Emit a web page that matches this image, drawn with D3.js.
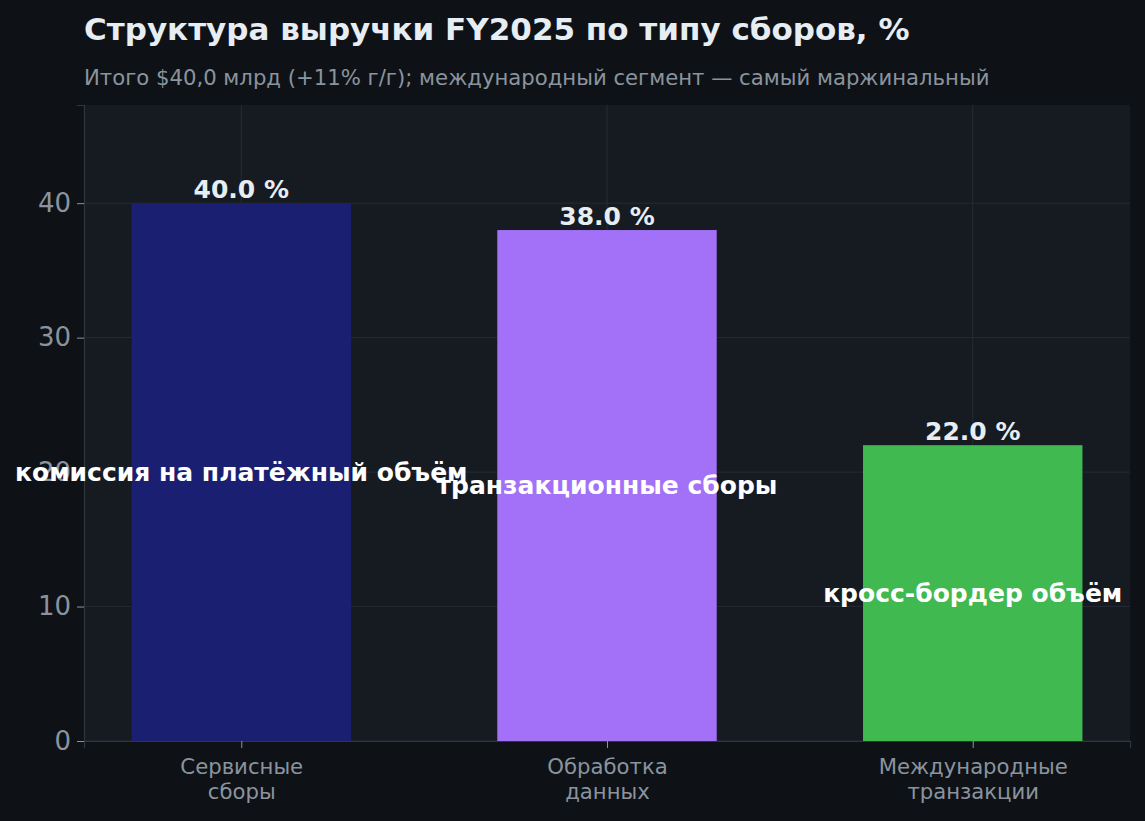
<!DOCTYPE html>
<html lang="ru">
<head>
    <meta charset="UTF-8">
    <title>Структура выручки FY2025</title>
    <script src="https://cdn.jsdelivr.net/npm/d3@7"></script>
    <style>
        html, body{
            margin: 0;
            padding: 0;
            background: #0e1217;
        }
        svg{
            display: block;
            font-family: "DejaVu Sans", sans-serif;
        }
    </style>
</head>
<body>
    <svg id="chart" width="1145" height="821"></svg>

    <script>
        // data
        const categories = ['Сервисные\nсборы', 'Обработка\nданных', 'Международные\nтранзакции'];
        const shares = [40.0, 38.0, 22.0];
        const drivers = ['комиссия на платёжный объём', 'транзакционные сборы', 'кросс-бордер объём'];
        const barColors = ['#1a1f71', '#a371f7', '#3fb950'];
        const yTicks = [0, 10, 20, 30, 40];

        const W = 1145, H = 821;
        const m = {top: 105, right: 15, bottom: 80, left: 84};
        const pw = W - m.left - m.right,
              ph = H - m.top - m.bottom;
        const FONT = '"DejaVu Sans", sans-serif';

        const svg = d3.select('#chart');

        svg.append('rect')
            .attr('width', W)
            .attr('height', H)
            .attr('fill', '#0e1217');

        // title + subtitle
        svg.append('text')
            .attr('x', m.left)
            .attr('y', 40)
            .attr('fill', '#e6edf3')
            .attr('font-size', 31)
            .attr('font-weight', 'bold')
            .text('Структура выручки FY2025 по типу сборов, %');

        svg.append('text')
            .attr('x', m.left)
            .attr('y', 85)
            .attr('fill', '#8b949e')
            .attr('font-size', 21.2)
            .text('Итого $40,0 млрд (+11% г/г); международный сегмент — самый маржинальный');

        const g = svg.append('g')
            .attr('transform', `translate(${m.left},${m.top})`);

        g.append('rect')
            .attr('width', pw)
            .attr('height', ph)
            .attr('fill', '#161a21');

        // linear x like matplotlib, bars at 0,1,2 with width 0.6
        const x = d3.scaleLinear().domain([-0.43, 2.43]).range([0, pw]);
        const y = d3.scaleLinear().domain([0, 47.3]).range([ph, 0]);
        const bw = 0.6;

        // grid
        g.append('g')
            .selectAll('line')
            .data(yTicks)
            .enter()
            .append('line')
            .attr('x1', 0)
            .attr('x2', pw)
            .attr('y1', d => y(d))
            .attr('y2', d => y(d))
            .attr('stroke', '#262b34')
            .attr('stroke-width', 1);

        g.append('g')
            .selectAll('line')
            .data(categories)
            .enter()
            .append('line')
            .attr('x1', (d,i) => x(i))
            .attr('x2', (d,i) => x(i))
            .attr('y1', 0)
            .attr('y2', ph)
            .attr('stroke', '#262b34')
            .attr('stroke-width', 1);

        // bars
        g.selectAll('.bar')
            .data(shares)
            .enter()
            .append('rect')
            .classed('bar', true)
            .attr('x', (d,i) => x(i - bw/2))
            .attr('y', d => y(d))
            .attr('width', x(bw) - x(0))
            .attr('height', d => y(0) - y(d))
            .attr('fill', (d,i) => barColors[i]);

        // axes
        const yAxis = g.append('g')
            .call(d3.axisLeft(y).tickValues(yTicks).tickSize(7).tickPadding(6).tickFormat(d3.format('d')))
            .attr('font-family', FONT);
        yAxis.select('.domain').attr('stroke', '#30363d').attr('stroke-width', 1.2);
        yAxis.selectAll('.tick line').attr('stroke', '#8b949e');
        yAxis.selectAll('.tick text')
            .attr('fill', '#8b949e')
            .attr('font-size', 26);

        const xAxis = g.append('g')
            .attr('transform', `translate(0,${ph})`)
            .call(d3.axisBottom(x).tickValues([0, 1, 2]).tickSize(7).tickFormat(''))
            .attr('font-family', FONT);
        xAxis.select('.domain').attr('stroke', '#30363d').attr('stroke-width', 1.2);
        xAxis.selectAll('.tick line').attr('stroke', '#8b949e');

        xAxis.selectAll('.tick')
            .append('text')
            .attr('fill', '#8b949e')
            .attr('font-size', 21.2)
            .attr('text-anchor', 'middle')
            .selectAll('tspan')
            .data((d) => categories[d].split('\n'))
            .enter()
            .append('tspan')
            .attr('x', 0)
            .attr('y', (d,i) => 33 + i*25)
            .text(d => d);

        // value labels
        g.selectAll('.val')
            .data(shares)
            .enter()
            .append('text')
            .attr('x', (d,i) => x(i))
            .attr('y', d => y(d) - 5)
            .attr('text-anchor', 'middle')
            .attr('fill', '#e6edf3')
            .attr('font-size', 25)
            .attr('font-weight', 'bold')
            .text(d => d.toFixed(1) + ' %');

        // driver labels inside bars
        g.selectAll('.drv')
            .data(drivers)
            .enter()
            .append('text')
            .attr('x', (d,i) => x(i))
            .attr('y', (d,i) => y(shares[i] / 2))
            .attr('dy', '0.35em')
            .attr('text-anchor', 'middle')
            .attr('fill', '#ffffff')
            .attr('font-size', 25)
            .attr('font-weight', 'bold')
            .text(d => d);
    </script>
</body>
</html>
